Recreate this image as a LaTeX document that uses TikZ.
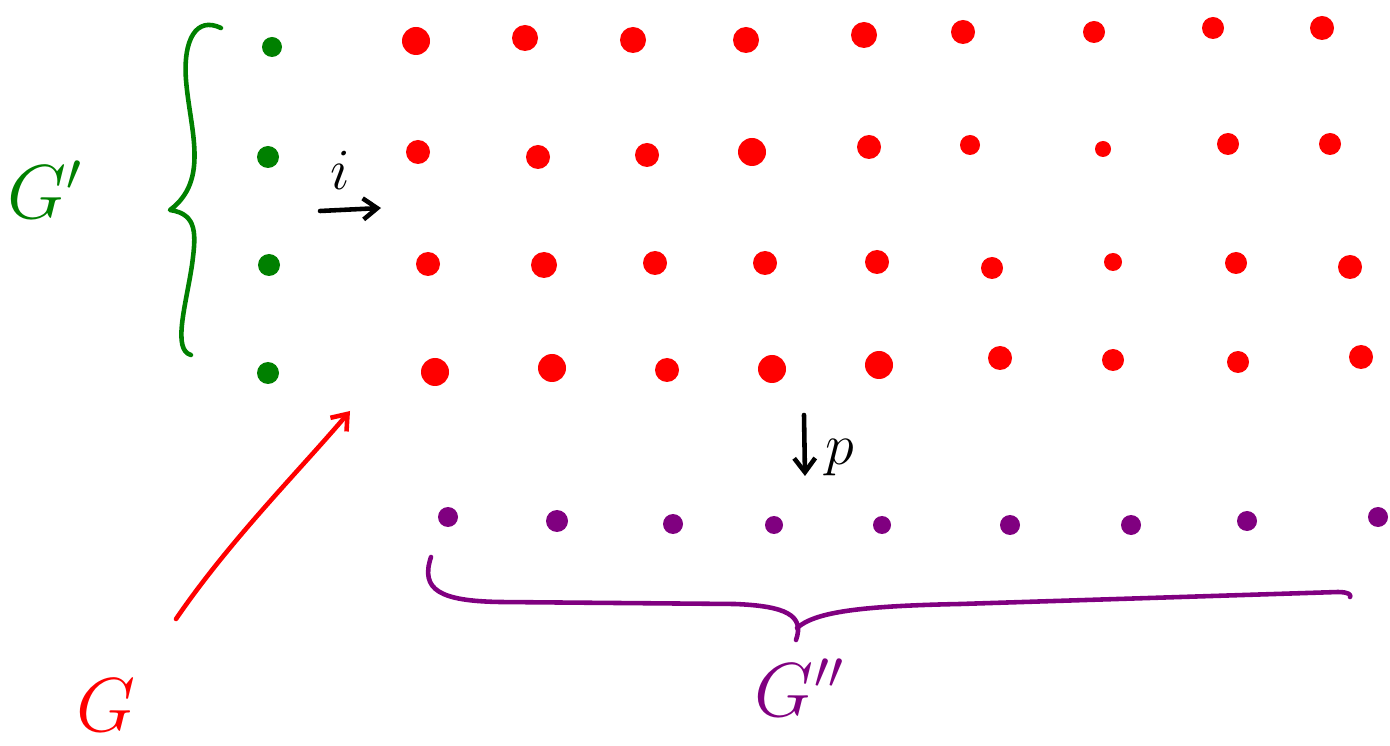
\documentclass[tikz,border=0pt]{standalone}
\usepackage{graphicx}
\usetikzlibrary{arrows.meta}
\definecolor{SubClr}{rgb}{0,0.5,0}
\definecolor{GrpClr}{rgb}{1,0,0}
\definecolor{QuoClr}{rgb}{0.5,0,0.5}

\newcommand{\biglabel}[1]{\scalebox{2.1}{\huge $#1$}}
\newcommand{\maplabel}[1]{\scalebox{1.6}{\huge $#1$}}

\tikzset{
  pen/.style={line width=2.6pt,line cap=round,line join=round},
}

\begin{document}
\begin{tikzpicture}[x=0.02cm,y=-0.02cm]
\useasboundingbox (0,0) rectangle (1390,746);

% G' : the green column
\fill[SubClr] (272,47) circle (10) (268,157) circle (11) (269,265) circle (11) (268,373) circle (11);

% G : the red grid
\fill[GrpClr] (416,41) circle (14) (525,38) circle (13) (633,40) circle (13) (746,40) circle (13)
  (864,35) circle (13) (963,32) circle (12) (1094,32) circle (11) (1213,28) circle (11) (1322,28) circle (12);
\fill[GrpClr] (418,152) circle (12) (538,157) circle (12) (647,155) circle (12) (752,152) circle (14)
  (869,147) circle (12) (970,145) circle (10) (1103,149) circle (8) (1228,144) circle (11) (1330,144) circle (11);
\fill[GrpClr] (428,264) circle (12) (544,265) circle (13) (655,263) circle (12) (765,263) circle (12)
  (877,262) circle (12) (992,268) circle (11) (1113,262) circle (9) (1236,263) circle (11) (1350,267) circle (12);
\fill[GrpClr] (435,372) circle (14) (552,368) circle (14) (667,370) circle (12) (772,369) circle (14)
  (879,365) circle (14) (1000,358) circle (12) (1113,360) circle (11) (1238,362) circle (11) (1361,357) circle (12);

% G'' : the purple row
\fill[QuoClr] (448,517) circle (10) (557,521) circle (11) (673,524) circle (10) (774,525) circle (9)
  (882,525) circle (9) (1010,525) circle (10) (1131,525) circle (10) (1247,521) circle (10) (1378,517) circle (10);

% braces
\draw[SubClr,pen] (221,28) .. controls (196,16) and (183,40) .. (186,80)
  .. controls (190,130) and (210,180) .. (170,210)
  .. controls (198,214) and (196,235) .. (192,265)
  .. controls (186,305) and (172,350) .. (191,355);
\draw[QuoClr,pen] (431,557) .. controls (420,590) and (440,601) .. (500,602)
  -- (735,604) .. controls (785,606) and (805,615) .. (796,640);
\draw[QuoClr,pen] (797,628) .. controls (815,612) and (860,606) .. (960,604)
  -- (1338,592) .. controls (1348,592) and (1352,595) .. (1350,597);

% labels
\node[SubClr] (subgrp) at (45,190) {\biglabel{G'}};
\node[GrpClr] (grp) at (106,705) {\biglabel{G}};
\node[QuoClr] (quogrp) at (800,688) {\biglabel{G''}};
\node (inc) at (340,170) {\maplabel{i}};
\node (proj) at (840,458) {\maplabel{p}};

% maps
\coordinate (incA) at (320,211);
\coordinate (incB) at (381,208);
\coordinate (projA) at (804,415);
\coordinate (projB) at (805,476);
\coordinate (grpA) at (176,619);
\coordinate (grpB) at (350,411);

\draw[pen,-{Straight Barb[length=8pt,width=12pt]}] (incA) -- (incB);
\draw[pen,-{Straight Barb[length=8pt,width=12pt]}] (projA) -- (projB);
\draw[GrpClr,pen,-{Straight Barb[length=8pt,width=12pt]}] (grpA) .. controls (230,540) and (300,470) .. (grpB);

\end{tikzpicture}
\end{document}
